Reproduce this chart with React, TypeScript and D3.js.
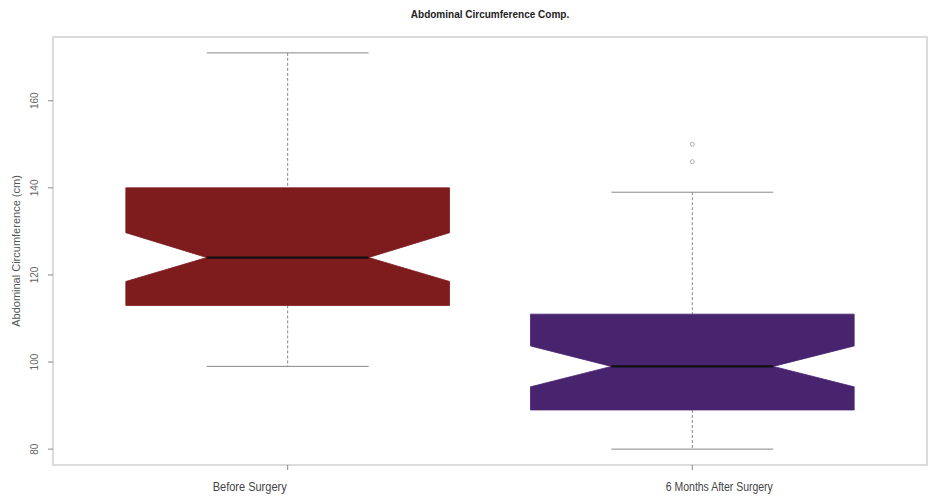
import React from 'react'
import * as d3 from 'd3'

// groups and five-number summaries
const groups = ['Before Surgery', '6 Months After Surgery']
const lowerWhisker = [99, 80]
const q1 = [113, 89]
const median = [124, 99]
const q3 = [140, 111]
const upperWhisker = [171, 139]
const notchLow = [118.5, 94.3]
const notchHigh = [129.7, 103.7]
const outliers = [[], [146, 150]]
const fills = ['#7e1b1d', '#48236e']
const yTicks = [80, 100, 120, 140, 160]

const W = 929
const H = 499
const left = 53
const right = 927
const top = 37
const bottom = 465

// the x labels in the original sit off-centre and are condensed
const labelShift = [-38, 27]
const labelWidth = [74, 107]

export default function App () {
  const x = d3.scaleLinear().domain([0.42, 2.58]).range([left, right])
  const y = d3.scaleLinear().domain([76.36, 174.64]).range([bottom, top])
  const boxHalf = (x(1.4) - x(1)) // box width 0.8
  const notchHalf = boxHalf / 2

  const boxPath = (i: number) => {
    const c = x(i + 1)
    const pts: [number, number][] = [
      [c - boxHalf, y(q1[i])],
      [c - boxHalf, y(notchLow[i])],
      [c - notchHalf, y(median[i])],
      [c - boxHalf, y(notchHigh[i])],
      [c - boxHalf, y(q3[i])],
      [c + boxHalf, y(q3[i])],
      [c + boxHalf, y(notchHigh[i])],
      [c + notchHalf, y(median[i])],
      [c + boxHalf, y(notchLow[i])],
      [c + boxHalf, y(q1[i])]
    ]
    return d3.line()(pts) + 'Z'
  }

  return (
    <svg width={W} height={H} style={{ position: 'absolute', left: 0, top: 0 }}>
      <rect x={0} y={0} width={W} height={H} fill='#fff' />
      <text x={(left + right) / 2} y={18} textAnchor='middle' fontFamily='Liberation Sans, Arial, sans-serif'
        fontWeight='bold' fontSize={10} fill='#222'>Abdominal Circumference Comp.</text>

      {groups.map((g, i) => {
        const c = x(i + 1)
        return (
          <g key={g}>
            <line x1={c} x2={c} y1={y(upperWhisker[i])} y2={y(q3[i])} stroke='#888' strokeDasharray='3,2' />
            <line x1={c} x2={c} y1={y(q1[i])} y2={y(lowerWhisker[i])} stroke='#888' strokeDasharray='3,2' />
            <line x1={c - notchHalf} x2={c + notchHalf} y1={y(upperWhisker[i])} y2={y(upperWhisker[i])} stroke='#888' />
            <line x1={c - notchHalf} x2={c + notchHalf} y1={y(lowerWhisker[i])} y2={y(lowerWhisker[i])} stroke='#888' />
            <path d={boxPath(i)} fill={fills[i]} stroke={fills[i]} strokeWidth={0.8} />
            <line x1={c - notchHalf} x2={c + notchHalf} y1={y(median[i])} y2={y(median[i])} stroke='#111' strokeWidth={2.2} />
            {outliers[i].map((v, k) => (
              <circle key={k} cx={c} cy={y(v)} r={2} fill='none' stroke='#999' strokeWidth={0.8} />
            ))}
          </g>
        )
      })}

      <rect x={left} y={top} width={right - left} height={bottom - top} fill='none' stroke='#d0d0d0' strokeWidth={1.5} />

      {yTicks.map(t => (
        <g key={t}>
          <line x1={left - 5} x2={left} y1={y(t)} y2={y(t)} stroke='#888' />
          <text transform={`translate(${left - 15},${y(t)}) rotate(-90)`} textAnchor='middle'
            fontFamily='Liberation Sans, Arial, sans-serif' fontSize={10} fill='#666'>{t}</text>
        </g>
      ))}
      <text transform={`translate(20,${(top + bottom) / 2}) rotate(-90)`} textAnchor='middle'
        fontFamily='Liberation Sans, Arial, sans-serif' fontSize={11} fill='#555'>Abdominal Circumference (cm)</text>

      {groups.map((g, i) => (
        <g key={g}>
          <line x1={x(i + 1)} x2={x(i + 1)} y1={bottom} y2={bottom + 5} stroke='#888' />
          <text x={x(i + 1) + labelShift[i]} y={491} textAnchor='middle' fontFamily='Liberation Sans, Arial, sans-serif'
            fontSize={12} fill='#444' textLength={labelWidth[i]} lengthAdjust='spacingAndGlyphs'>{g}</text>
        </g>
      ))}
    </svg>
  )
}
